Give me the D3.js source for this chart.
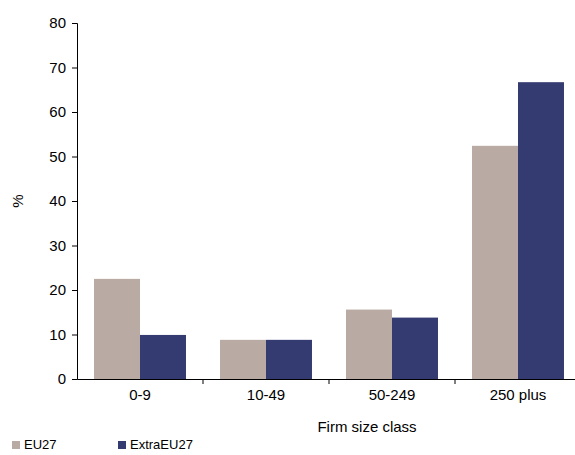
<!DOCTYPE html>
<html><head><meta charset="utf-8">
<script src="https://cdn.jsdelivr.net/npm/d3@7"></script>
<style>body{margin:0;background:#fff}text{font-family:"Liberation Sans",Arial,sans-serif}</style>
</head><body><svg id="c" width="575" height="455"></svg>
<script>
const categories = ['0-9', '10-49', '50-249', '250 plus']
const seriesNames = ['EU27', 'ExtraEU27']
const eu27 = [22.5, 8.8, 15.6, 52.4]
const extraEu27 = [9.9, 8.8, 13.8, 66.7]
const yTicks = [0, 10, 20, 30, 40, 50, 60, 70, 80]
const colors = ['#b9aba3', '#343b70']

const svg = d3.select('#c')
const x = d3.scaleBand().domain(categories).range([77, 581])
const y = d3.scaleLinear().domain([0, 80]).range([379, 23])
const xs = d3.scaleBand().domain(seriesNames).range([0, x.bandwidth()]).paddingInner(0).paddingOuter(0.37)

const series = [eu27, extraEu27]
series.forEach((vals, s) => {
  svg.append('g').selectAll('rect').data(vals).join('rect')
    .attr('x', (d, i) => x(categories[i]) + xs(seriesNames[s]))
    .attr('width', xs.bandwidth())
    .attr('y', d => y(d))
    .attr('height', d => y(0) - y(d))
    .attr('fill', colors[s])
})

const ya = svg.append('g').attr('transform', 'translate(77,0)')
  .call(d3.axisLeft(y).tickValues(yTicks).tickSize(5).tickPadding(6))
const xa = svg.append('g').attr('transform', 'translate(0,379)')
  .call(d3.axisBottom(x).tickSize(0).tickPadding(10))
xa.selectAll('.tick').append('line').attr('stroke', '#000')
  .attr('x1', x.bandwidth() / 2).attr('x2', x.bandwidth() / 2).attr('y2', 5)
;[ya, xa].forEach(a => {
  a.select('.domain').attr('stroke', '#000')
  a.selectAll('text').attr('font-size', 15).attr('fill', '#000')
})
ya.selectAll('line').attr('stroke', '#000')

svg.append('text').attr('transform', 'translate(23,201) rotate(-90)')
  .attr('text-anchor', 'middle').attr('font-size', 15).text('%')
svg.append('text').attr('x', 367).attr('y', 432)
  .attr('text-anchor', 'middle').attr('font-size', 15).text('Firm size class')

const leg = svg.append('g').selectAll('g').data(seriesNames).join('g')
  .attr('transform', (d, i) => `translate(${[12, 118][i]},441)`)
leg.append('rect').attr('width', 8).attr('height', 8).attr('fill', (d, i) => colors[i])
leg.append('text').attr('x', 12).attr('y', 8).attr('font-size', 13).text(d => d)
</script></body></html>
